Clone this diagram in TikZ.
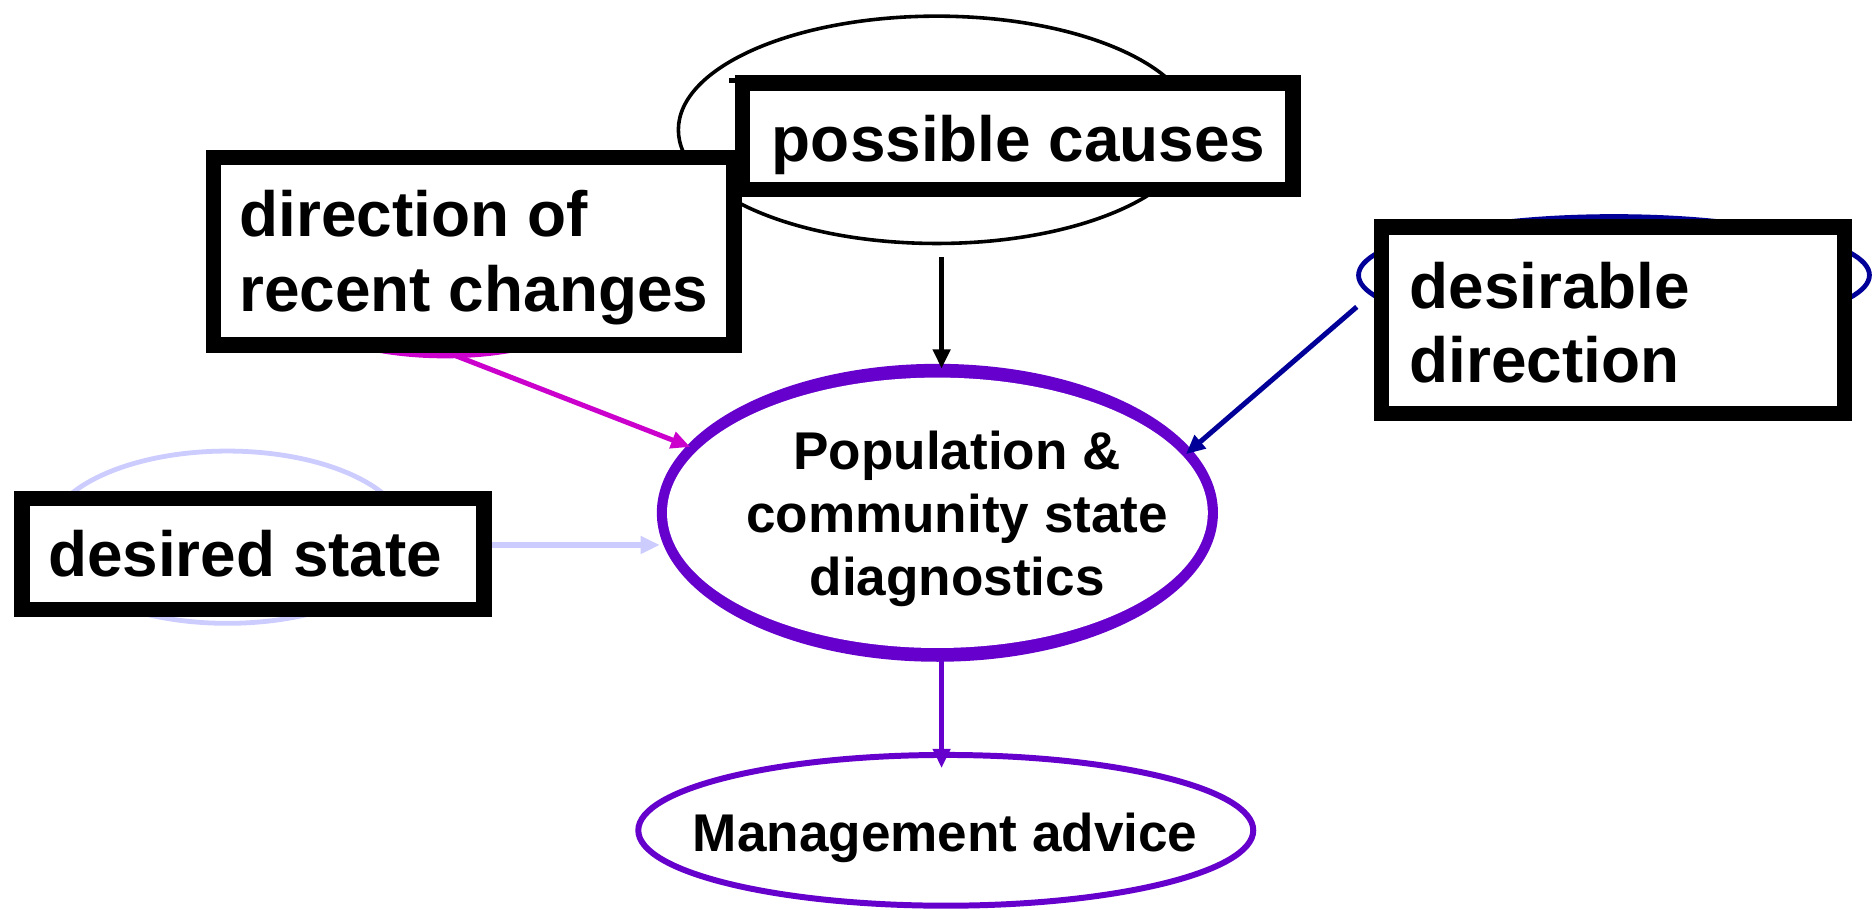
\documentclass[tikz,border=0pt]{standalone}
\usepackage{fontspec}
\setmainfont{Liberation Sans}
\usetikzlibrary{shapes.geometric,arrows.meta}
\definecolor{vio}{RGB}{102,0,204}
\definecolor{mag}{RGB}{204,0,204}
\definecolor{lav}{RGB}{204,204,255}
\definecolor{navyb}{RGB}{0,0,153}
\begin{document}
\begin{tikzpicture}[x=1pt,y=-1pt,
  oval/.style={ellipse, draw, inner sep=0pt},
  boxnode/.style={rectangle, draw=black, line width=13pt, fill=white, inner sep=0pt},
  bigtxt/.style={font=\bfseries\fontsize{53.4}{62.5}\selectfont, inner sep=0pt},
  midtxt/.style={font=\bfseries\fontsize{44.4}{53}\selectfont, inner sep=0pt},
  tip/.style={-{Triangle[length=16pt,width=14pt]}}]
\useasboundingbox (0,0) rectangle (1568,760);
\fill[white] (0,0) rectangle (1568,760);
% ellipses behind boxes
\node[oval, draw=black, line width=3pt, minimum width=432pt, minimum height=190pt] (pcell) at (783,108.5) {};
\node[oval, draw=mag, line width=5pt, minimum width=290pt, minimum height=124pt] (dirrell) at (372,235) {};
\node[oval, draw=lav, line width=4pt, minimum width=302pt, minimum height=144pt] (dsell) at (190,449) {};
\node[oval, draw=navyb, line width=4pt, minimum width=427pt, minimum height=98pt] (dbell) at (1349,230) {};
% boxes
\node[boxnode, minimum width=435pt, minimum height=157pt] (dirbox) at (396,210) {};
\node[boxnode, minimum width=460pt, minimum height=89pt] (pcbox) at (850.5,114) {};
\node[boxnode, minimum width=386pt, minimum height=93pt] (dsbox) at (211.5,463) {};
\node[boxnode, minimum width=387pt, minimum height=156pt] (dbbox) at (1348,267.5) {};
\fill[black] (609,65) rectangle (620,69);
% texts
\node[bigtxt, anchor=base west] (pctext) at (645,135) {possible causes};
\node[bigtxt, anchor=base west, align=left] (dirtext) at (200,260) {direction of\\recent changes};
\node[bigtxt, anchor=base west] (dstext) at (40,482) {desired state};
\node[bigtxt, anchor=base west, align=left] (dbtext) at (1178,320) {desirable\\direction};
% main ellipse: a ring, thicker at top and bottom
\node[ellipse, fill=vio, draw=none, inner sep=0pt, outer sep=0pt, minimum width=469pt, minimum height=249pt] (diag) at (783.5,428.6) {};
\fill[white] (diag.center) ellipse [x radius=226pt, y radius=113pt];
\node[midtxt, align=center, anchor=base] (diagtext) at (800,498) {Population \&\\community state\\diagnostics};
\node[oval, draw=vio, line width=5pt, minimum width=514pt, minimum height=126pt] (mgmt) at (790.5,694) {};
\node[midtxt, anchor=base] (mgmttext) at (790,712) {Management advice};
% connectors
\coordinate (pcout) at (787,215);
\coordinate (dirout) at (380,297);
\coordinate (dbout) at (1134,256.5);
\path (pcout |- diag.north) ++(0,4) coordinate (pcend);
\path (mgmt.north) ++(-3.5,13.5) coordinate (mgend);
\path (diag.west |- 0,455.5) ++(2.5,0) coordinate (dsend);
\draw[tip, black, line width=4pt] (pcout) -- (pcend);
\draw[tip, mag, line width=4.2pt, shorten >=-3pt] (dirout) -- (diag.165);
\draw[tip, lav, line width=4.5pt] (dsbox.east |- dsend) -- (dsend);
\draw[tip, navyb, line width=4.2pt, shorten >=-6pt] (dbout) -- (diag.14.55);
\draw[tip, vio, line width=4.5pt] (mgend |- diag.south) ++(0,-6) -- (mgend);
\end{tikzpicture}
\end{document}
